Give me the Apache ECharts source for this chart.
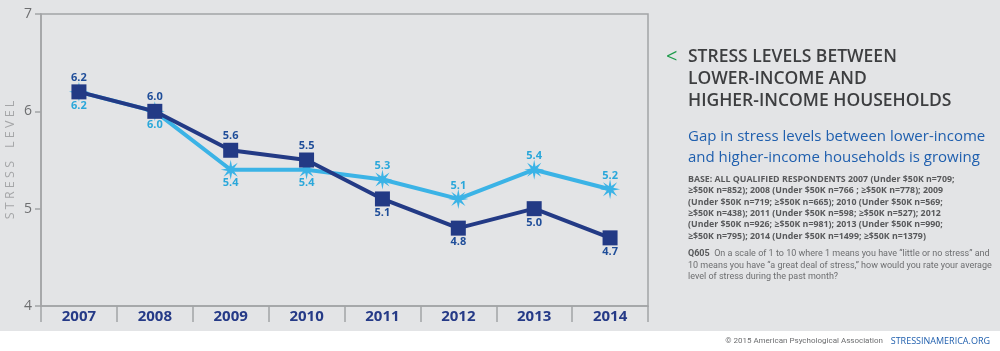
<!DOCTYPE html>
<html>
<head>
<meta charset="utf-8">
<script src="https://cdn.jsdelivr.net/npm/echarts@6/dist/echarts.min.js"></script>
<style>
  html, body { margin: 0; padding: 0; background: #fff; }
  #main { width: 1000px; height: 351px; }
</style>
</head>
<body>
<div id="main"></div>
<script>
// 数据
var years = ['2007', '2008', '2009', '2010', '2011', '2012', '2013', '2014'];
var higherIncome = [6.2, 6.0, 5.6, 5.5, 5.1, 4.8, 5.0, 4.7];   // ≥$50K，深蓝方块
var lowerIncome = [6.2, 6.0, 5.4, 5.4, 5.3, 5.1, 5.4, 5.2];    // Under $50K，浅蓝星形
var yTicks = [4, 5, 6, 7];

var navy = '#233a85';
var sky = '#3bb3e6';
var starPath = 'path://M10 0 L11.34 6.77 L17.07 2.93 L13.23 8.66 L20 10 L13.23 11.34 L17.07 17.07 L11.34 13.23 L10 20 L8.66 13.23 L2.93 17.07 L6.77 11.34 L0 10 L6.77 8.66 L2.93 2.93 L8.66 6.77 Z';

var myChart = echarts.init(document.getElementById('main'));

var option = {
    backgroundColor: '#ffffff',
    animation: false,
    grid: {
        left: 41,
        right: 352,
        top: 14,
        bottom: 45,
        outerBoundsMode: 'none',
        containLabel: false,
        show: true,
        borderColor: '#a3a4a6',
        borderWidth: 1.5,
        backgroundColor: 'transparent'
    },
    xAxis: {
        type: 'category',
        data: years,
        boundaryGap: true,
        axisLine: { lineStyle: { color: '#a3a4a6', width: 1.5 } },
        axisTick: { show: true, inside: false, length: 16, lineStyle: { color: '#a3a4a6', width: 1.5 } },
        axisLabel: {
            margin: 3,
            color: '#253a87',
            fontSize: 15,
            fontWeight: 'bold',
            fontFamily: 'Open Sans'
        }
    },
    yAxis: {
        type: 'value',
        min: yTicks[0],
        max: yTicks[yTicks.length - 1],
        interval: 1,
        name: 'S T R E S S    L E V E L',
        nameLocation: 'middle',
        nameGap: 24,
        nameMoveOverlap: false,
        nameTextStyle: { color: '#a5a6a8', fontSize: 12.5, fontFamily: 'Open Sans' },
        axisLine: { show: true, lineStyle: { color: '#a3a4a6', width: 1.5 } },
        axisTick: { show: true, length: 6, lineStyle: { color: '#a3a4a6', width: 1.5 } },
        splitLine: { show: false },
        axisLabel: {
            margin: 9,
            color: '#6d6e70',
            fontSize: 14,
            fontFamily: 'Open Sans'
        }
    },
    series: [
        {
            name: 'Under $50K',
            type: 'line',
            data: lowerIncome.map(function (v, i) {
                return { value: v, label: { position: i < 4 ? 'bottom' : 'top' } };
            }),
            symbol: starPath,
            symbolSize: 20,
            lineStyle: { color: sky, width: 4 },
            itemStyle: { color: sky },
            label: {
                show: true,
                distance: -2,
                color: '#2aa7da',
                fontSize: 11,
                fontWeight: 'bold',
                fontFamily: 'Open Sans',
                formatter: function (p) { return p.value.toFixed(1); }
            },
            z: 3
        },
        {
            name: '≥$50K',
            type: 'line',
            data: higherIncome.map(function (v, i) {
                return { value: v, label: { position: i < 4 ? 'top' : 'bottom' } };
            }),
            symbol: 'rect',
            symbolSize: 15,
            lineStyle: { color: navy, width: 4 },
            itemStyle: { color: navy },
            label: {
                show: true,
                distance: 1,
                color: '#1f4d99',
                fontSize: 11,
                fontWeight: 'bold',
                fontFamily: 'Open Sans',
                formatter: function (p) { return p.value.toFixed(1); }
            },
            z: 4
        }
    ],
    graphic: [
        // 灰色底
        { type: 'rect', shape: { x: 0, y: 0, width: 1000, height: 331 }, style: { fill: '#e3e4e6' }, z: -10, silent: true },
        // 标题
        { type: 'text', x: 666, y: 57, style: { text: '<', fill: '#1d9b4b', font: '20px "Open Sans"', verticalAlign: 'middle' } },
        {
            type: 'text', x: 688, y: 46,
            style: {
                text: 'STRESS LEVELS BETWEEN\nLOWER-INCOME AND\nHIGHER-INCOME HOUSEHOLDS',
                fill: '#3d3e40',
                font: '600 17.5px "Open Sans"',
                lineHeight: 22
            }
        },
        {
            type: 'text', x: 688, y: 126,
            style: {
                text: 'Gap in stress levels between lower-income\nand higher-income households is growing',
                fill: '#1f5fae',
                font: '15px "Open Sans"',
                lineHeight: 21
            }
        },
        {
            type: 'text', x: 688, y: 174,
            style: {
                text: 'BASE: ALL QUALIFIED RESPONDENTS 2007 (Under $50K n=709;\n' +
                      '≥$50K n=852); 2008 (Under $50K n=766 ; ≥$50K n=778); 2009\n' +
                      '(Under $50K n=719; ≥$50K n=665); 2010 (Under $50K n=569;\n' +
                      '≥$50K n=438); 2011 (Under $50K n=598; ≥$50K n=527); 2012\n' +
                      '(Under $50K n=926; ≥$50K n=981); 2013 (Under $50K n=990;\n' +
                      '≥$50K n=795); 2014 (Under $50K n=1499; ≥$50K n=1379)',
                fill: '#58595b',
                font: 'bold 8.8px "Open Sans"',
                lineHeight: 11.3
            }
        },
        {
            type: 'text', x: 688, y: 248,
            style: {
                text: '{b|Q605}  On a scale of 1 to 10 where 1 means you have \u201clittle or no stress\u201d and\n' +
                      '10 means you have \u201ca great deal of stress,\u201d how would you rate your average\n' +
                      'level of stress during the past month?',
                fill: '#6d6e70',
                font: '9px Roboto',
                lineHeight: 11.5,
                rich: {
                    b: { fontWeight: 'bold', fill: '#58595b', fontSize: 9, fontFamily: 'Roboto', lineHeight: 11.5 }
                }
            }
        },
        // 页脚
        {
            type: 'text', x: 883, y: 341,
            style: { text: '\u00a9 2015 American Psychological Association', fill: '#6d6e70', font: '8px Roboto', align: 'right', verticalAlign: 'middle' }
        },
        {
            type: 'text', x: 990, y: 341,
            style: { text: 'STRESSINAMERICA.ORG', fill: '#1f5fae', font: '9px "Open Sans"', align: 'right', verticalAlign: 'middle' }
        }
    ]
};

myChart.setOption(option);
</script>
</body>
</html>
